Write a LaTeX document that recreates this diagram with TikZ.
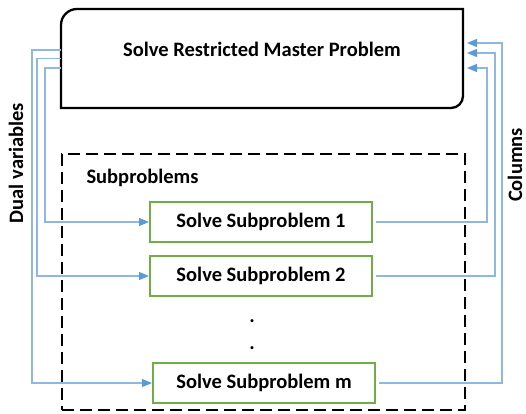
\documentclass[tikz,border=0pt]{standalone}
\usepackage{fontspec}
\setmainfont{Carlito}
\usetikzlibrary{arrows.meta,positioning,calc}
\definecolor{linkblue}{HTML}{8FB8E0}
\definecolor{tipblue}{HTML}{5B9BD5}
\definecolor{subgreen}{HTML}{70AD47}

\begin{document}
\begin{tikzpicture}[x=1pt,y=1pt,
  every node/.style={font=\fontsize{20.5}{24}\selectfont\bfseries},
  subbox/.style={draw=subgreen,line width=2pt,minimum width=222pt,minimum height=40pt,inner sep=0pt},
  groupbox/.style={draw,line width=2pt,dash pattern=on 12pt off 6pt,minimum width=403pt,minimum height=256pt,inner sep=0pt},
  sidelabel/.style={rotate=90,inner sep=0pt},
  dualflow/.style={draw=linkblue,line width=1.1pt,-{Triangle[length=10pt,width=8pt,color=tipblue]}},
  colflow/.style={draw=linkblue,line width=1.1pt,{Triangle[length=10pt,width=8pt,color=tipblue]}-,shorten <=4pt,shorten >=3pt}]
  \useasboundingbox (0,0) rectangle (526,413);
  % master problem (two rounded corners only)
  \node[minimum width=402pt,minimum height=99pt,inner sep=0pt,outer sep=0pt,text height=14.5pt,text depth=17.5pt] (master) at (262,354.5) {Solve Restricted Master Problem};
  \draw[line width=2.3pt] (master.south west) -- ([yshift=-16pt]master.north west) arc[start angle=180,end angle=90,radius=16pt]
    -- (master.north east) -- ([yshift=12pt]master.south east) arc[start angle=0,end angle=-90,radius=12pt] -- cycle;
  % subproblem group
  \node[groupbox] (group) at (263.5,131) {};
  \node[anchor=base west] (grouplabel) at (83,230) {Subproblems};
  \foreach \name/\num/\px/\py in {sub1/1/261/191, sub2/2/261/137, subm/m/264/30}
    \node[subbox] (\name) at (\px,\py) {Solve Subproblem \num};
  \node[anchor=base] (dotA) at (252,90.5) {.};
  \node[anchor=base] (dotB) at (252,63.5) {.};
  % dual variables down, columns back up
  \foreach \sub/\dy/\bus in {sub1/-9.5/45, sub2/0/37, subm/8.5/32}{
    \coordinate (dual-\sub) at (\bus,0);
    \draw[dualflow] ([yshift=\dy pt]master.west) -| (dual-\sub |- \sub.west) -- (\sub.west);
  }
  \foreach \sub/\dy/\bus in {sub1/-9.5/487, sub2/5.5/495, subm/15.5/502}{
    \coordinate (col-\sub) at (\bus,0);
    \draw[colflow] ([yshift=\dy pt]master.east) -| (col-\sub |- \sub.east) -- (\sub.east);
  }
  \node[sidelabel] (dual) at (16,250) {Dual variables};
  \node[sidelabel] (cols) at (515,248) {Columns};
\end{tikzpicture}
\end{document}
